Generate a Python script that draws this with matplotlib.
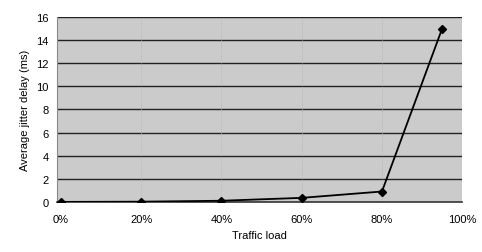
import numpy as np
import matplotlib
matplotlib.use("Agg")
import matplotlib.pyplot as plt

plt.rcParams['font.family'] = ['Liberation Sans', 'DejaVu Sans']

load = [0, 20, 40, 60, 80, 95]
jitter = [0.0, 0.02, 0.1, 0.35, 0.9, 15.0]
xticks = [0, 20, 40, 60, 80, 100]
xtick_labels = ['0%', '20%', '40%', '60%', '80%', '100%']
yticks = [0, 2, 4, 6, 8, 10, 12, 14, 16]

fig = plt.figure(figsize=(4.82, 2.53), dpi=100)
ax = fig.add_axes([0.118, 0.198, 0.841, 0.731])
ax.set_facecolor('#cbcbcb')

for y in yticks[1:]:
    ax.axhline(y, color='#222222', lw=1.0, zorder=1)
for x in xticks[1:-1]:
    ax.axvline(x, color='#b0b0b0', lw=0.6, ls=':', zorder=1)

ax.plot(load, jitter, color='black', lw=1.3, marker='D', ms=4, zorder=3)

ax.set_xlim(-1, 100)
ax.set_ylim(0, 16)
ax.set_xticks(xticks)
ax.set_xticklabels(xtick_labels)
ax.set_yticks(yticks)
ax.tick_params(length=0, labelsize=8, pad=6)
ax.tick_params(axis='x', pad=9)
for s in ['top', 'right']:
    ax.spines[s].set_visible(False)
ax.spines['left'].set_color('#888888')
ax.spines['bottom'].set_color('#333333')
ax.spines['bottom'].set_linewidth(1.2)

ax.set_xlabel('Traffic load', fontsize=8, labelpad=4)
ax.set_ylabel('Average jitter delay (ms)', fontsize=8, labelpad=4)

fig.savefig('out.png', dpi=100)
